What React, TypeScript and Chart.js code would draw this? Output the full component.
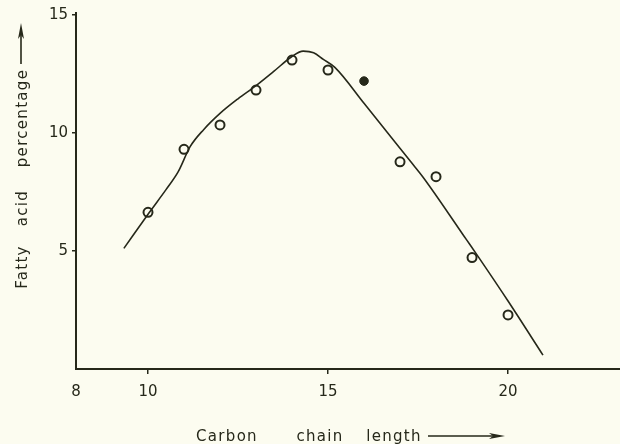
import React, { useEffect, useRef } from "react";
import { Chart, registerables } from "chart.js";

Chart.register(...registerables);

// Measured fatty acid percentages (open circles)
const chainLength = [10, 11, 12, 13, 14, 15, 17, 18, 19, 20];
const fattyAcidPct = [6.64, 9.31, 10.34, 11.82, 13.09, 12.67, 8.78, 8.15, 4.72, 2.29];
// Filled point
const filledChain = [16];
const filledPct = [12.2];
// Hand-drawn fitted curve
const curveX = [9.33, 10.04, 10.5, 10.84, 11.17, 11.55, 12.0, 12.5, 13.02, 13.5, 13.99, 14.31, 14.6, 14.87, 15.19, 16.0, 17.3, 17.63, 18.85, 19.19, 20.0, 20.97];
const curveY = [5.11, 6.64, 7.6, 8.36, 9.42, 10.15, 10.83, 11.45, 12.03, 12.62, 13.23, 13.47, 13.4, 13.12, 12.78, 11.26, 8.78, 8.15, 5.47, 4.72, 2.88, 0.59];
// Axis ticks
const xTicks = [8, 10, 15, 20];
const yTicks = [5, 10, 15];
const xTitleWords = ["Carbon", "chain", "length"];
const yTitleWords = ["Fatty", "acid", "percentage"];

const INK = "#26281a";
const PAPER = "#fcfcf0";
const FONT = "'DejaVu Sans', sans-serif";

function drawArrow(ctx: CanvasRenderingContext2D, x0: number, y0: number, x1: number, y1: number) {
  const len = Math.hypot(x1 - x0, y1 - y0);
  const ux = (x1 - x0) / len;
  const uy = (y1 - y0) / len;
  const head = 16;
  const half = 3;
  ctx.beginPath();
  ctx.lineWidth = 1.6;
  ctx.moveTo(x0, y0);
  ctx.lineTo(x1 - ux * head * 0.6, y1 - uy * head * 0.6);
  ctx.stroke();
  const bx = x1 - ux * head;
  const by = y1 - uy * head;
  ctx.beginPath();
  ctx.moveTo(x1, y1);
  ctx.lineTo(bx - uy * half, by + ux * half);
  ctx.lineTo(bx + ux * 4, by + uy * 4);
  ctx.lineTo(bx + uy * half, by - ux * half);
  ctx.closePath();
  ctx.fill();
}

const paperPlugin = {
  id: "paper",
  beforeDraw(chart: any) {
    const ctx = chart.ctx;
    ctx.save();
    ctx.fillStyle = PAPER;
    ctx.fillRect(0, 0, chart.width, chart.height);
    ctx.restore();
  },
};

const titlePlugin = {
  id: "axisTitles",
  afterDraw(chart: any) {
    const ctx: CanvasRenderingContext2D = chart.ctx;
    ctx.save();
    ctx.fillStyle = INK;
    ctx.strokeStyle = INK;
    ctx.font = `15px ${FONT}`;
    (ctx as any).letterSpacing = "1.3px";
    ctx.textAlign = "center";
    ctx.textBaseline = "alphabetic";
    const xCenters = [227, 320, 394];
    xTitleWords.forEach((w, i) => ctx.fillText(w, xCenters[i], 441));
    drawArrow(ctx, 428, 436, 505, 436);

    const yCenters = [267, 208, 118];
    yTitleWords.forEach((w, i) => {
      ctx.save();
      ctx.translate(27, yCenters[i]);
      ctx.rotate(-Math.PI / 2);
      ctx.fillText(w, 0, 0);
      ctx.restore();
    });
    drawArrow(ctx, 21, 64, 21, 23);
    ctx.restore();
  },
};

export default function App() {
  const ref = useRef<HTMLCanvasElement | null>(null);

  useEffect(() => {
    if (!ref.current) return;
    const chart = new Chart(ref.current, {
      type: "scatter",
      data: {
        datasets: [
          {
            label: "fit",
            data: curveX.map((x, i) => ({ x, y: curveY[i] })),
            showLine: true,
            pointRadius: 0,
            borderColor: INK,
            borderWidth: 1.6,
            cubicInterpolationMode: "monotone",
            fill: false,
          } as any,
          {
            label: "measured",
            data: chainLength.map((x, i) => ({ x, y: fattyAcidPct[i] })),
            pointRadius: 4.5,
            borderWidth: 2,
            borderColor: INK,
            backgroundColor: PAPER,
          },
          {
            label: "centres",
            data: chainLength.map((x, i) => ({ x, y: fattyAcidPct[i] })),
            pointRadius: 1.3,
            borderWidth: 0,
            backgroundColor: INK,
          },
          {
            label: "filled",
            data: filledChain.map((x, i) => ({ x, y: filledPct[i] })),
            pointRadius: 4.3,
            borderWidth: 1,
            borderColor: INK,
            backgroundColor: INK,
          },
        ],
      },
      options: {
        responsive: false,
        animation: false,
        layout: { autoPadding: false, padding: { top: 12.64, left: 0, right: 0, bottom: 0 } },
        plugins: { legend: { display: false }, tooltip: { enabled: false } },
        scales: {
          x: {
            type: "linear",
            min: 8,
            max: 23.11,
            afterBuildTicks: (s: any) => {
              s.ticks = xTicks.map((v) => ({ value: v }));
            },
            afterFit: (s: any) => {
              s.height = 75;
              s.paddingLeft = 0;
              s.paddingRight = 0;
            },
            grid: {
              drawOnChartArea: false,
              drawTicks: true,
              tickLength: 5,
              lineWidth: 1.5,
              tickColor: (c: any) => (c.tick && c.tick.value === 8 ? "rgba(0,0,0,0)" : INK),
            },
            border: { display: true, color: INK, width: 2 },
            ticks: {
              color: INK,
              font: { family: FONT, size: 15 },
              padding: 9,
              maxRotation: 0,
              autoSkip: false,
            },
          },
          y: {
            type: "linear",
            min: 0,
            max: 15.1,
            afterBuildTicks: (s: any) => {
              s.ticks = yTicks.map((v) => ({ value: v }));
            },
            afterFit: (s: any) => {
              s.width = 76;
              s.paddingTop = 0;
              s.paddingBottom = 0;
            },
            grid: {
              drawOnChartArea: false,
              drawTicks: true,
              tickLength: 4,
              lineWidth: 1.5,
              tickColor: INK,
            },
            border: { display: true, color: INK, width: 2 },
            ticks: {
              color: INK,
              font: { family: FONT, size: 15 },
              padding: 4,
              autoSkip: false,
            },
          },
        },
      },
      plugins: [paperPlugin, titlePlugin],
    } as any);
    return () => chart.destroy();
  }, []);

  return (
    <div style={{ position: "absolute", left: 0, top: 0, width: 620, height: 444, background: PAPER }}>
      <canvas ref={ref} width={620} height={444} style={{ display: "block", width: 620, height: 444 }} />
    </div>
  );
}
